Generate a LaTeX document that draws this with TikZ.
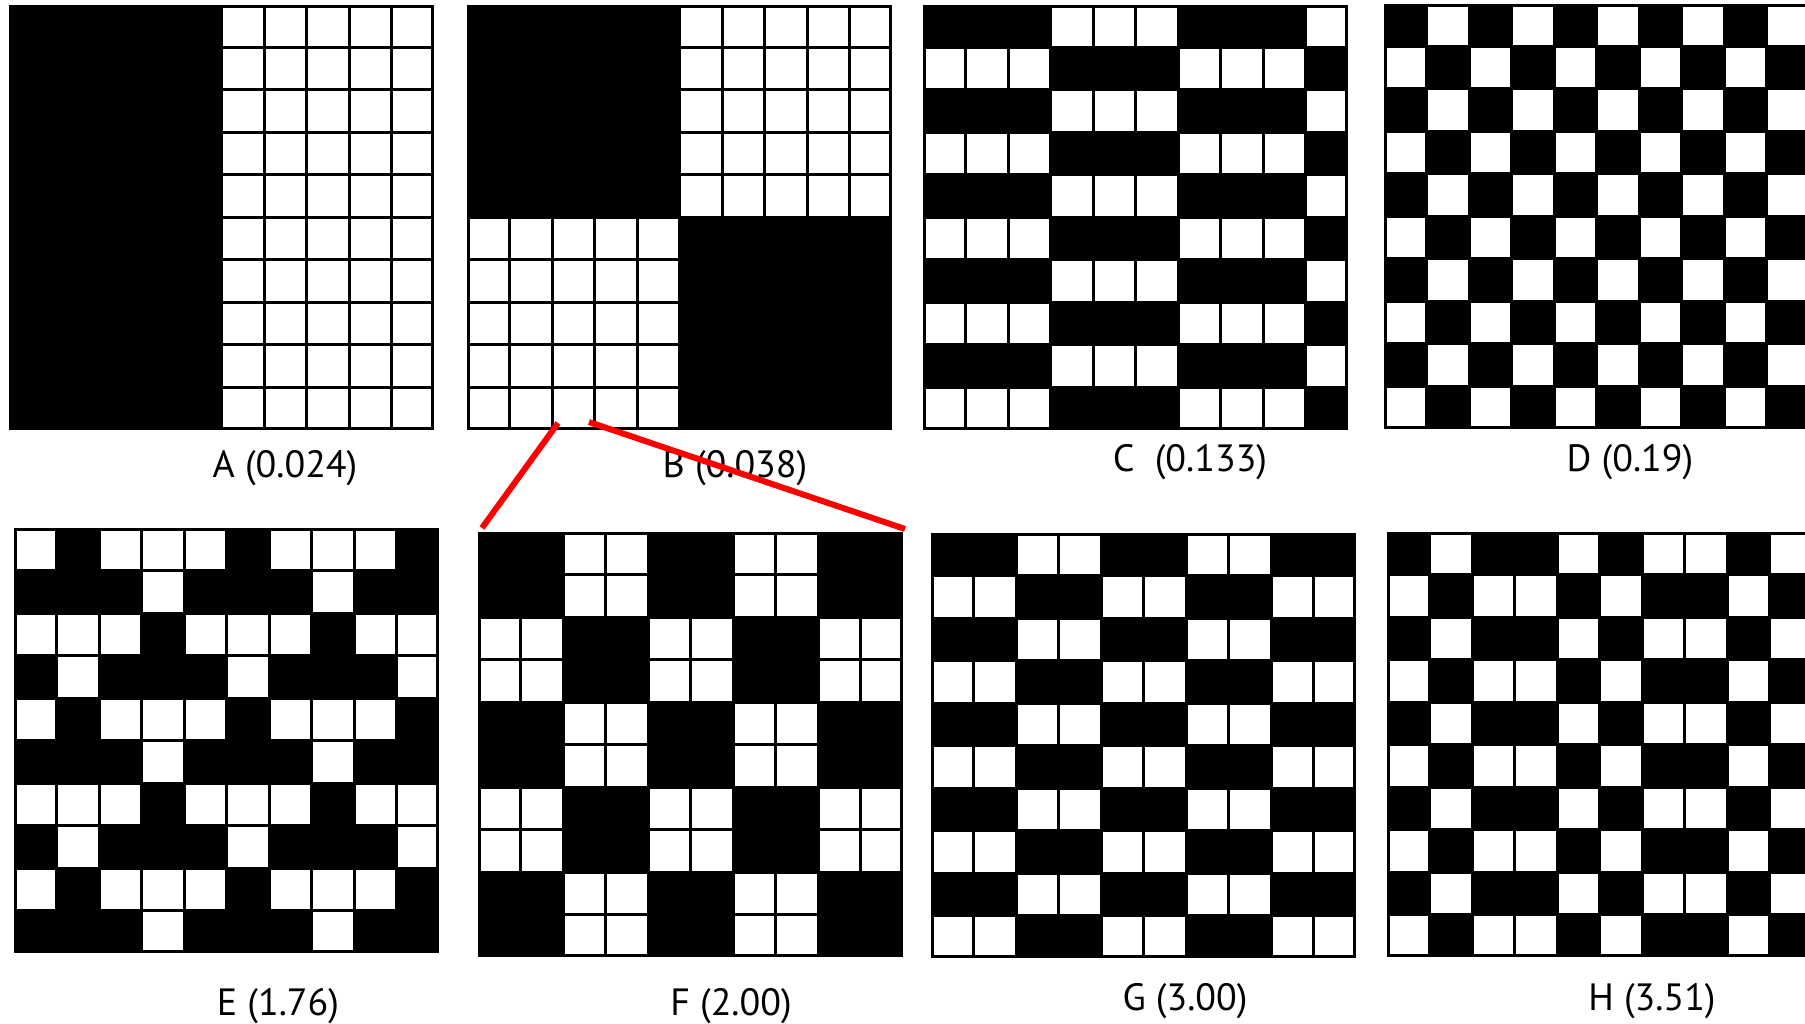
\documentclass[tikz,border=0pt]{standalone}
\usepackage{fontspec}
\setmainfont{PT Sans}
\newcommand{\prow}[3]{%
  \foreach \v [count=\c from 0] in {#3} {%
    \ifnum\v=1\relax
      \fill[white] ({#1+\c*42.5+1.5},{#2+1.5}) rectangle ++(39.5,39.5);
    \fi
  }}
\newcommand{\pbase}[2]{\fill[black] (#1,#2) rectangle ++(425,425);}
\newcommand{\pframe}[2]{\draw[panelframe] ({#1+1.5},{#2+1.5}) rectangle ++(422,422);}
\begin{document}
\begin{tikzpicture}[x=1pt,y=-1pt,
  panelframe/.style={draw=black,line width=3pt},
  lbl/.style={font=\fontsize{38}{44}\selectfont,anchor=base,inner sep=0pt},
  zoomline/.style={draw=red,line width=6pt}]
\useasboundingbox (0,0) rectangle (1805,1024);
\clip (0,0) rectangle (1805,1024);
\fill[white] (0,0) rectangle (1805,1024);
% ---------- A ----------
\pbase{9}{5}
\foreach \r in {0,...,9} {\prow{9}{5+\r*42.5}{0,0,0,0,0,1,1,1,1,1}}
\pframe{9}{5}
% ---------- B ----------
\pbase{467}{5}
\foreach \r in {0,...,4} {\prow{467}{5+\r*42.5}{0,0,0,0,0,1,1,1,1,1}}
\foreach \r in {5,...,9} {\prow{467}{5+\r*42.5}{1,1,1,1,1,0,0,0,0,0}}
\pframe{467}{5}
% ---------- C ----------
\pbase{923}{5}
\foreach \r in {0,2,4,6,8} {\prow{923}{5+\r*42.5}{0,0,0,1,1,1,0,0,0,1}
  \prow{923}{5+\r*42.5+42.5}{1,1,1,0,0,0,1,1,1,0}}
\pframe{923}{5}
% ---------- D ----------
\pbase{1384}{4}
\foreach \r in {0,2,4,6,8} {\prow{1384}{4+\r*42.5}{0,1,0,1,0,1,0,1,0,1}
  \prow{1384}{4+\r*42.5+42.5}{1,0,1,0,1,0,1,0,1,0}}
\pframe{1384}{4}
% ---------- E ----------
\pbase{14}{528}
\foreach \r in {0,4,8} {\prow{14}{528+\r*42.5}{1,0,1,1,1,0,1,1,1,0}
  \prow{14}{528+\r*42.5+42.5}{0,0,0,1,0,0,0,1,0,0}}
\foreach \r in {2,6} {\prow{14}{528+\r*42.5}{1,1,1,0,1,1,1,0,1,1}
  \prow{14}{528+\r*42.5+42.5}{0,1,0,0,0,1,0,0,0,1}}
\pframe{14}{528}
% ---------- F ----------
\pbase{478}{532}
\foreach \r in {0,1,4,5,8,9} {\prow{478}{532+\r*42.5}{0,0,1,1,0,0,1,1,0,0}}
\foreach \r in {2,3,6,7} {\prow{478}{532+\r*42.5}{1,1,0,0,1,1,0,0,1,1}}
\pframe{478}{532}
% ---------- G ----------
\pbase{931}{533}
\foreach \r in {0,2,4,6,8} {\prow{931}{533+\r*42.5}{0,0,1,1,0,0,1,1,0,0}
  \prow{931}{533+\r*42.5+42.5}{1,1,0,0,1,1,0,0,1,1}}
\pframe{931}{533}
% ---------- H ----------
\pbase{1387}{532}
\foreach \r in {0,2,4,6,8} {\prow{1387}{532+\r*42.5}{0,1,0,0,1,0,1,1,0,1}
  \prow{1387}{532+\r*42.5+42.5}{1,0,1,1,0,1,0,0,1,0}}
\pframe{1387}{532}
% ---------- labels ----------
\node[lbl] (la) at (285,477) {A (0.024)};
\node[lbl] (lb) at (735,477) {B (0.038)};
\node[lbl] (lc) at (1190,471) {C\ \ (0.133)};
\node[lbl] (ld) at (1630,471) {D (0.19)};
\node[lbl] (le) at (278,1015) {E (1.76)};
\node[lbl] (lf) at (731,1015) {F (2.00)};
\node[lbl] (lg) at (1185,1010) {G (3.00)};
\node[lbl] (lh) at (1652,1010) {H (3.51)};
% ---------- zoom lines ----------
\coordinate (bL) at (558,423);
\coordinate (fL) at (482,528);
\coordinate (bR) at (589,422);
\coordinate (fR) at (905,529);
\draw[zoomline] (bL) -- (fL);
\draw[zoomline] (bR) -- (fR);
\end{tikzpicture}
\end{document}
